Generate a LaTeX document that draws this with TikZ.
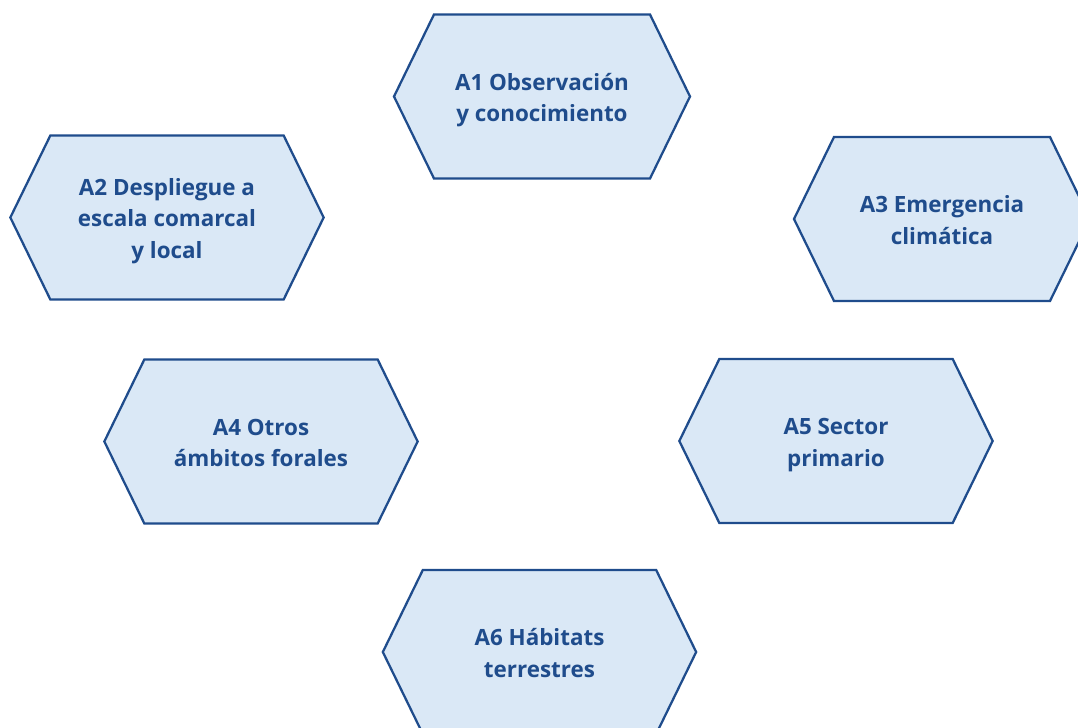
\documentclass[tikz,border=0pt]{standalone}
\usepackage{fontspec}
\setmainfont{Open Sans}
\usepackage{tikz}
\usetikzlibrary{shapes.symbols}
\definecolor{hexblue}{HTML}{1F4C8C}
\definecolor{hexfill}{HTML}{DAE8F6}
\newcommand{\hexup}{\rule{0pt}{18.5pt}}
\newcommand{\hexdown}{\rule[-4.5pt]{0pt}{0pt}}

\begin{document}
\begin{tikzpicture}
   [x=0.75pt,y=-0.75pt,
   hexbox/.style={signal, signal to=west and east, signal pointer angle=128, draw=hexblue, fill=hexfill, line width=1.7pt, align=center, text=hexblue, font=\bfseries\fontsize{16.8}{23.5}\selectfont, minimum height=123pt, inner sep=0pt},
   narrowhex/.style={hexbox, minimum width=222pt},
   widehex/.style={hexbox, minimum width=235pt},
   ]
 \useasboundingbox (0,0) rectangle (1078,728);
 \clip (0,0) rectangle (1078,728);
 \node at (542,96.5) [narrowhex] (hex1) {\hexup A1 Observación\\y conocimiento\hexdown};
 \node at (167,217.5) [widehex] (hex2) {\hexup A2 Despliegue a\\escala comarcal\\y local\hexdown};
 \node at (942,219) [narrowhex] (hex3) {\hexup A3 Emergencia\\climática\hexdown};
 \node at (261,441.5) [widehex] (hex4) {\hexup A4 Otros\\ámbitos forales\hexdown};
 \node at (836,441) [widehex] (hex5) {\hexup A5 Sector\\primario\hexdown};
 \node at (539.5,652) [widehex] (hex6) {\hexup A6 Hábitats\\terrestres\hexdown};
\end{tikzpicture}
\end{document}
